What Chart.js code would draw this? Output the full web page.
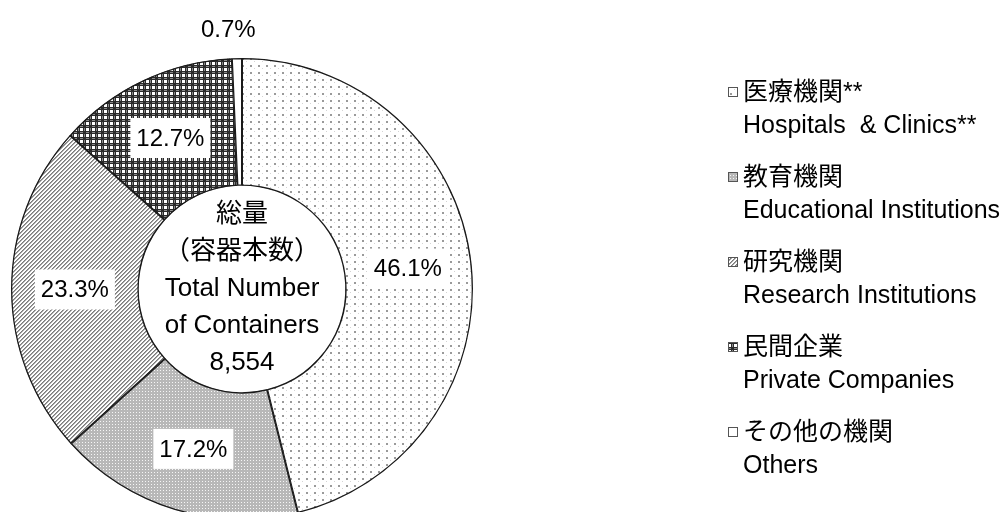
<!DOCTYPE html>
<html>
<head>
<meta charset="utf-8">
<script src="https://cdn.jsdelivr.net/npm/chart.js@4/dist/chart.umd.min.js"></script>
<style>
  html, body { margin: 0; padding: 0; background: #fff; }
  #wrap { position: relative; width: 1003px; height: 512px; overflow: hidden; }
  #box { position: absolute; left: 0; top: 0; width: 1003px; height: 578px; }
</style>
</head>
<body>
<div id="wrap"><div id="box"><canvas id="chart"></canvas></div></div>
<script>
'use strict';

// data
const labelsJa = ['医療機関**', '教育機関', '研究機関', '民間企業', 'その他の機関'];
const labelsEn = ['Hospitals  & Clinics**', 'Educational Institutions', 'Research Institutions', 'Private Companies', 'Others'];
const shares = [46.1, 17.2, 23.3, 12.7, 0.7];
const centerLines = ['総量', '（容器本数）', 'Total Number', 'of Containers', '8,554'];

const FONT = '"Liberation Sans", "Noto Sans CJK JP", sans-serif';

// pattern fills (made on small tiles)
function makePattern(w, h, draw) {
  let c = document.createElement('canvas');
  c.width = w;
  c.height = h;
  let g = c.getContext('2d');
  draw(g);
  return g.createPattern(c, 'repeat');
}

let dotted = makePattern(8, 7, function (g) {
  g.fillStyle = '#fff';
  g.fillRect(0, 0, 8, 7);
  g.fillStyle = '#9a9a9a';
  g.fillRect(2, 2, 2, 2);
  g.fillStyle = '#d4d4d4';
  g.fillRect(6, 5, 1, 1);
});

let fineGrid = makePattern(3, 3, function (g) {
  g.fillStyle = '#b8b8b8';
  g.fillRect(0, 0, 3, 3);
  g.fillStyle = '#f6f6f6';
  g.fillRect(1, 1, 1, 1);
});

let stripes = makePattern(4, 4, function (g) {
  g.fillStyle = '#fff';
  g.fillRect(0, 0, 4, 4);
  for (let x = 0; x < 4; x++) {
    for (let y = 0; y < 4; y++) {
      if ((x + y) % 4 === 0) { g.fillStyle = '#7a7a7a'; g.fillRect(x, y, 1, 1); }
      if ((x + y) % 4 === 1) { g.fillStyle = '#a8a8a8'; g.fillRect(x, y, 1, 1); }
    }
  }
});

let darkGrid = makePattern(6, 6, function (g) {
  g.fillStyle = '#2a2a2a';
  g.fillRect(0, 0, 6, 6);
  g.fillStyle = '#fff';
  g.fillRect(2, 2, 3, 3);
  g.fillStyle = '#8a8a8a';
  g.fillRect(2, 0, 3, 1);
  g.fillRect(0, 2, 1, 3);
});

const fills = [dotted, fineGrid, stripes, darkGrid, '#ffffff'];

// percent boxes on the slices
const sliceLabels = {
  id: 'sliceLabels',
  afterDatasetsDraw(chart) {
    let ctx = chart.ctx;
    let arcs = chart.getDatasetMeta(0).data;
    ctx.save();
    ctx.font = '24px ' + FONT;
    ctx.textAlign = 'center';
    ctx.textBaseline = 'middle';
    arcs.forEach(function (arc, i) {
      let txt = shares[i].toFixed(1) + '%';
      if (shares[i] < 3) {
        let mid = (arc.startAngle + arc.endAngle) / 2;
        let r = arc.outerRadius + 28;
        ctx.fillStyle = '#000';
        ctx.fillText(txt, arc.x + Math.cos(mid) * r - 8, arc.y + Math.sin(mid) * r);
        return;
      }
      let p = arc.tooltipPosition();
      ctx.fillStyle = '#fff';
      ctx.fillRect(p.x - 40, p.y - 20, 80, 40);
      ctx.fillStyle = '#000';
      ctx.fillText(txt, p.x, p.y + 1);
    });
    ctx.restore();
  }
};

// center text + legend on the right
const extras = {
  id: 'extras',
  afterDraw(chart) {
    let ctx = chart.ctx;
    let arc = chart.getDatasetMeta(0).data[0];
    ctx.save();
    ctx.fillStyle = '#000';
    ctx.textAlign = 'center';
    ctx.textBaseline = 'middle';
    ctx.font = '26px ' + FONT;
    let top = arc.y - 2 * 37;
    centerLines.forEach(function (line, i) {
      ctx.fillText(line, arc.x, top + i * 37);
    });

    ctx.textAlign = 'left';
    for (let i = 0; i < labelsJa.length; i++) {
      let y = 92 + i * 85;
      ctx.fillStyle = fills[i];
      ctx.fillRect(728, y - 5, 10, 10);
      ctx.strokeStyle = '#555';
      ctx.lineWidth = 1;
      ctx.strokeRect(728.5, y - 4.5, 9, 9);
      ctx.fillStyle = '#000';
      ctx.font = '25px ' + FONT;
      ctx.fillText(labelsJa[i], 743, y + 1);
      ctx.fillText(labelsEn[i], 743, y + 34);
    }
    ctx.restore();
  }
};

let ctx = document.getElementById('chart').getContext('2d');

new Chart(ctx, {
  type: 'doughnut',
  data: {
    labels: labelsJa,
    datasets: [{
      data: shares,
      backgroundColor: fills,
      borderColor: '#1a1a1a',
      borderWidth: 1,
      borderAlign: 'inner'
    }]
  },
  options: {
    responsive: true,
    maintainAspectRatio: false,
    animation: false,
    cutout: '44.7%',
    layout: {
      padding: { left: 11, right: 530, top: 58, bottom: 58 }
    },
    plugins: {
      legend: { display: false },
      tooltip: { enabled: false }
    }
  },
  plugins: [sliceLabels, extras]
});
</script>
</body>
</html>
